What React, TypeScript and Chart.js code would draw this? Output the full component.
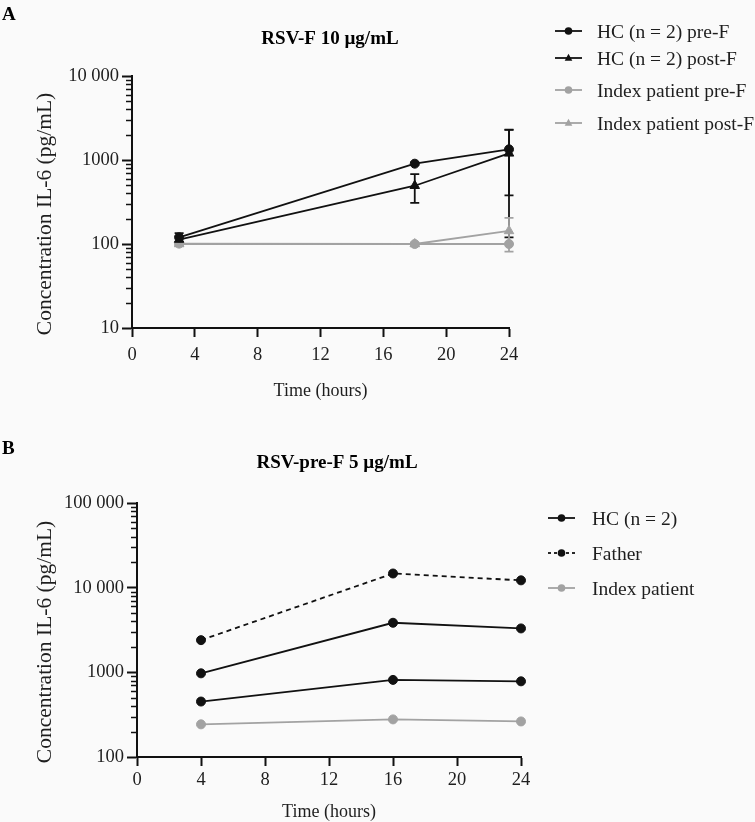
import React, { useEffect, useRef } from "react";
import { Chart, registerables } from "chart.js";

Chart.register(...registerables);

const SERIF = "'Liberation Serif', 'Times New Roman', serif";
const BLACK = "#111111";
const GRAY = "#a2a2a2";
const TEXT = "#1e1e1e";
const BG = "#fafafa";

// ---------- Panel A: RSV-F 10 µg/mL ----------
const hoursA = [3, 18, 24];
const hcPreFA = [120, 904, 1340];
const hcPreFErrA = [15, 30, 960];
const hcPostFA = [113, 494, 1200];
const hcPostFErrA = [10, 185, 1080];
const idxPreFA = [101, 100, 100];
const idxPreFErrA = [3, 2, 0];
const idxPostFA = [100, 100, 143];
const idxPostFErrA = [5, 4, 62];
const yTicksA = [10, 100, 1000, 10000];
const yTickLabelsA = ["10", "100", "1000", "10 000"];

// ---------- Panel B: RSV-pre-F 5 µg/mL ----------
const hoursB = [4, 16, 24];
const hc1B = [973, 3850, 3300];
const hc2B = [452, 814, 783];
const fatherB = [2400, 14700, 12200];
const indexB = [243, 278, 263];
const yTicksB = [100, 1000, 10000, 100000];
const yTickLabelsB = ["100", "1000", "10 000", "100 000"];

// ---------- shared x axis ----------
const xTicks = [0, 4, 8, 12, 16, 20, 24];
const xTickLabels = ["0", "4", "8", "12", "16", "20", "24"];

type Series = {
  label: string;
  x: number[];
  y: number[];
  err?: number[];
  color: string;
  point: "circle" | "triangle";
  dash?: number[];
  inLegend: boolean;
};

type PanelCfg = {
  letter: string;
  letterBase: number;
  title: string;
  titleX: number;
  titleBase: number;
  height: number;
  padTop: number;
  padRight: number;
  yWidth: number;
  xHeight: number;
  xTickPad: number;
  yMin: number;
  yMax: number;
  yTicks: number[];
  yTickLabels: string[];
  xTitleBase: number;
  yTitleShift: number;
  legend: { x1: number; x2: number; textX: number; rows: number[] };
  series: Series[];
};

const seriesA: Series[] = [
  { label: "HC (n = 2) pre-F", x: hoursA, y: hcPreFA, err: hcPreFErrA, color: BLACK, point: "circle", inLegend: true },
  { label: "HC (n = 2) post-F", x: hoursA, y: hcPostFA, err: hcPostFErrA, color: BLACK, point: "triangle", inLegend: true },
  { label: "Index patient pre-F", x: hoursA, y: idxPreFA, err: idxPreFErrA, color: GRAY, point: "circle", inLegend: true },
  { label: "Index patient post-F", x: hoursA, y: idxPostFA, err: idxPostFErrA, color: GRAY, point: "triangle", inLegend: true },
];

const seriesB: Series[] = [
  { label: "HC (n = 2)", x: hoursB, y: hc1B, color: BLACK, point: "circle", inLegend: true },
  { label: "HC (n = 2)", x: hoursB, y: hc2B, color: BLACK, point: "circle", inLegend: false },
  { label: "Father", x: hoursB, y: fatherB, color: BLACK, point: "circle", dash: [5, 4], inLegend: true },
  { label: "Index patient", x: hoursB, y: indexB, color: GRAY, point: "circle", inLegend: true },
];

const panelA: PanelCfg = {
  letter: "A",
  letterBase: 20,
  title: "RSV-F 10 µg/mL",
  titleX: 330,
  titleBase: 44,
  height: 411,
  padTop: 76,
  padRight: 246,
  yWidth: 132,
  xHeight: 83,
  xTickPad: 7,
  yMin: 10,
  yMax: 10000,
  yTicks: yTicksA,
  yTickLabels: yTickLabelsA,
  xTitleBase: 396,
  yTitleShift: 12,
  legend: { x1: 555, x2: 582, textX: 597, rows: [31, 58, 90, 123] },
  series: seriesA,
};

const panelB: PanelCfg = {
  letter: "B",
  letterBase: 43,
  title: "RSV-pre-F 5 µg/mL",
  titleX: 337,
  titleBase: 57,
  height: 411,
  padTop: 92,
  padRight: 234,
  yWidth: 137,
  xHeight: 65,
  xTickPad: 3,
  yMin: 100,
  yMax: 100000,
  yTicks: yTicksB,
  yTickLabels: yTickLabelsB,
  xTitleBase: 406,
  yTitleShift: 12,
  legend: { x1: 548, x2: 575, textX: 592, rows: [107, 142, 177] },
  series: seriesB,
};

function drawMarker(ctx: CanvasRenderingContext2D, style: string, x: number, y: number, r: number, color: string) {
  ctx.save();
  ctx.fillStyle = color;
  ctx.beginPath();
  if (style === "triangle") {
    ctx.moveTo(x, y - r * 1.1);
    ctx.lineTo(x + r * 1.0, y + r * 0.7);
    ctx.lineTo(x - r * 1.0, y + r * 0.7);
    ctx.closePath();
  } else {
    ctx.arc(x, y, r, 0, Math.PI * 2);
  }
  ctx.fill();
  ctx.restore();
}

function makeDecor(c: PanelCfg) {
  return {
    id: "decor" + c.letter,
    beforeDatasetsDraw(chart: any) {
      const ctx: CanvasRenderingContext2D = chart.ctx;
      const xs = chart.scales.x;
      const ys = chart.scales.y;
      ctx.save();
      ctx.lineWidth = 1.8;
      c.series.forEach((s) => {
        if (!s.err) return;
        ctx.strokeStyle = s.color;
        s.x.forEach((xv, i) => {
          const e = s.err![i];
          if (!e) return;
          const px = xs.getPixelForValue(xv);
          const top = ys.getPixelForValue(s.y[i] + e);
          const bot = ys.getPixelForValue(Math.max(s.y[i] - e, c.yMin * 0.5));
          ctx.beginPath();
          ctx.moveTo(px, top);
          ctx.lineTo(px, bot);
          ctx.moveTo(px - 4.5, top);
          ctx.lineTo(px + 4.5, top);
          ctx.moveTo(px - 4.5, bot);
          ctx.lineTo(px + 4.5, bot);
          ctx.stroke();
        });
      });
      ctx.restore();
    },
    afterDraw(chart: any) {
      const ctx: CanvasRenderingContext2D = chart.ctx;
      const area = chart.chartArea;
      const ys = chart.scales.y;
      ctx.save();
      // minor ticks on log axis
      ctx.strokeStyle = BLACK;
      ctx.lineWidth = 1.5;
      for (let d = c.yMin; d < c.yMax; d *= 10) {
        for (let m = 2; m <= 9; m++) {
          const py = Math.round(ys.getPixelForValue(d * m)) + 0.5;
          ctx.beginPath();
          ctx.moveTo(area.left - 6, py);
          ctx.lineTo(area.left, py);
          ctx.stroke();
        }
      }
      // panel letter
      ctx.fillStyle = "#000";
      ctx.textBaseline = "alphabetic";
      ctx.textAlign = "left";
      ctx.font = `bold 19px ${SERIF}`;
      ctx.fillText(c.letter, 2, c.letterBase);
      // title
      ctx.textAlign = "center";
      ctx.fillText(c.title, c.titleX, c.titleBase);
      // x title
      ctx.fillStyle = TEXT;
      ctx.font = `18px ${SERIF}`;
      ctx.fillText("Time (hours)", (area.left + area.right) / 2, c.xTitleBase);
      // y title
      ctx.save();
      ctx.translate(51, (area.top + area.bottom) / 2 + c.yTitleShift);
      ctx.rotate(-Math.PI / 2);
      ctx.font = `21.5px ${SERIF}`;
      ctx.textAlign = "center";
      ctx.fillText("Concentration IL-6 (pg/mL)", 0, 0);
      ctx.restore();
      // legend
      const items = c.series.filter((s) => s.inLegend);
      items.forEach((s, i) => {
        const y = c.legend.rows[i];
        ctx.save();
        ctx.strokeStyle = s.color;
        ctx.lineWidth = 1.8;
        ctx.setLineDash(s.dash ? [3, 3] : []);
        ctx.beginPath();
        ctx.moveTo(c.legend.x1, y);
        ctx.lineTo(c.legend.x2, y);
        ctx.stroke();
        ctx.restore();
        drawMarker(ctx, s.point, (c.legend.x1 + c.legend.x2) / 2, y, 3.8, s.color);
        ctx.fillStyle = TEXT;
        ctx.font = `19.5px ${SERIF}`;
        ctx.textAlign = "left";
        ctx.textBaseline = "alphabetic";
        ctx.fillText(s.label, c.legend.textX, y + 6.5);
      });
      ctx.restore();
    },
  };
}

function Panel({ cfg }: { cfg: PanelCfg }) {
  const ref = useRef<HTMLCanvasElement | null>(null);
  useEffect(() => {
    const canvas = ref.current;
    if (!canvas) return;
    const c = cfg;
    const datasets = c.series.map((s, i) => ({
      label: s.label,
      data: s.x.map((xv, j) => ({ x: xv, y: s.y[j] })),
      borderColor: s.color,
      backgroundColor: s.color,
      borderWidth: 1.8,
      borderDash: s.dash ?? [],
      pointStyle: s.point,
      pointRadius: s.point === "triangle" ? 5.5 : 4.5,
      pointBorderWidth: 1,
      pointBackgroundColor: s.color,
      pointBorderColor: s.color,
      tension: 0,
      clip: false,
      order: i,
    }));
    const tickFont = { family: SERIF, size: 18.5 };
    const chart = new Chart(canvas, {
      type: "line",
      data: { datasets } as any,
      options: {
        animation: false,
        responsive: false,
        maintainAspectRatio: false,
        devicePixelRatio: 1,
        layout: { padding: { top: c.padTop, left: 0, right: c.padRight, bottom: 0 } },
        plugins: { legend: { display: false }, title: { display: false }, tooltip: { enabled: false } },
        scales: {
          x: {
            type: "linear",
            min: 0,
            max: 24,
            afterBuildTicks: (s: any) => {
              s.ticks = xTicks.map((v) => ({ value: v }));
            },
            afterFit: (s: any) => {
              s.height = c.xHeight;
            },
            ticks: {
              callback: (_v: any, i: number) => xTickLabels[i],
              font: tickFont,
              color: TEXT,
              padding: c.xTickPad,
              maxRotation: 0,
              autoSkip: false,
            },
            grid: { display: true, drawOnChartArea: false, drawTicks: true, tickLength: 9, tickWidth: 2, tickColor: BLACK },
            border: { display: true, color: BLACK, width: 2 },
            title: { display: false },
          },
          y: {
            type: "logarithmic",
            min: c.yMin,
            max: c.yMax,
            afterBuildTicks: (s: any) => {
              s.ticks = c.yTicks.map((v) => ({ value: v }));
            },
            afterFit: (s: any) => {
              s.width = c.yWidth;
            },
            ticks: {
              callback: (_v: any, i: number) => c.yTickLabels[i],
              font: tickFont,
              color: TEXT,
              padding: 3,
              autoSkip: false,
            },
            grid: { display: true, drawOnChartArea: false, drawTicks: true, tickLength: 10, tickWidth: 2, tickColor: BLACK },
            border: { display: true, color: BLACK, width: 2 },
            title: { display: false },
          },
        },
      } as any,
      plugins: [makeDecor(c)],
    });
    return () => chart.destroy();
  }, [cfg]);
  return (
    <canvas
      ref={ref}
      width={755}
      height={cfg.height}
      style={{ display: "block", width: 755, height: cfg.height }}
    />
  );
}

export default function App() {
  return (
    <div
      style={{
        position: "absolute",
        left: 0,
        top: 0,
        width: 755,
        height: 822,
        background: BG,
        overflow: "hidden",
      }}
    >
      <Panel cfg={panelA} />
      <Panel cfg={panelB} />
    </div>
  );
}
